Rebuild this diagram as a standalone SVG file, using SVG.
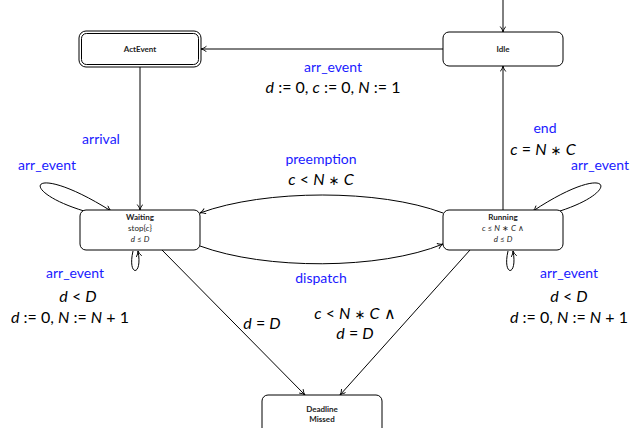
<svg xmlns="http://www.w3.org/2000/svg" width="638" height="428" viewBox="0 0 638 428">
<defs>
<marker id="arr" markerWidth="8" markerHeight="8" refX="6" refY="3" orient="auto" markerUnits="userSpaceOnUse">
<path d="M0.5,0.2 Q3,2.4 6,3 Q3,3.6 0.5,5.8" fill="none" stroke="#000" stroke-width="0.9"/>
</marker>
<style>
.box{fill:#fff;stroke:#000;stroke-width:1}
.nt{font-family:Lato,"Liberation Sans",sans-serif;font-size:8px;text-anchor:middle;fill:#222}
.b{font-weight:bold}
.lbl{font-family:Lato,"Liberation Sans",sans-serif;font-size:14px;fill:#1a1aff;text-anchor:middle}
.m{font-family:Lato,"Liberation Sans",sans-serif;font-size:16px;fill:#000;text-anchor:middle}
.i{font-style:italic}
.s{font-family:"DejaVu Sans",sans-serif;font-size:13px}
.e{fill:none;stroke:#000;stroke-width:1;marker-end:url(#arr)}
</style>
</defs>
<rect width="638" height="428" fill="#fff"/>
<g id="connectors">
<path class="e" d="M503,0 L503,32"/>
<path class="e" d="M443,49 L201,49"/>
<path class="e" d="M140,66 L140,210"/>
<path class="e" d="M503,210 L503,66"/>
<path class="e" d="M443,213 C380,189 265,189 200,213"/>
<path class="e" d="M200,246 C265,270 380,270 443,244"/>
<path class="e" d="M84,211 C15,190 30,160 111,211"/>
<path class="e" d="M560,211 C625,190 610,160 533,211"/>
<path class="e" d="M133,251 C127,277 143,277 138,251"/>
<path class="e" d="M508,251 C502,277 518,277 513,251"/>
<path class="e" d="M162,250 L305,395"/>
<path class="e" d="M470,250 L340,395"/>
</g>
<g id="labels">
<text class="lbl" x="333" y="72">arr_event</text>
<text class="m" x="333" y="93"><tspan class="i">d</tspan> := 0, <tspan class="i">c</tspan> := 0, <tspan class="i">N</tspan> := 1</text>
<text class="lbl" x="101" y="144">arrival</text>
<text class="lbl" x="545" y="133">end</text>
<text class="m" x="543" y="155"><tspan class="i">c</tspan> = <tspan class="i">N</tspan> <tspan class="s">∗</tspan> <tspan class="i">C</tspan></text>
<text class="lbl" x="47" y="170">arr_event</text>
<text class="lbl" x="600" y="170">arr_event</text>
<text class="lbl" x="321" y="164">preemption</text>
<text class="m" x="321" y="185"><tspan class="i">c</tspan> &lt; <tspan class="i">N</tspan> <tspan class="s">∗</tspan> <tspan class="i">C</tspan></text>
<text class="lbl" x="321" y="283">dispatch</text>
<text class="lbl" x="75" y="278">arr_event</text>
<text class="m" x="78" y="302"><tspan class="i">d</tspan> &lt; <tspan class="i">D</tspan></text>
<text class="m" x="70" y="323"><tspan class="i">d</tspan> := 0, <tspan class="i">N</tspan> := <tspan class="i">N</tspan> + 1</text>
<text class="lbl" x="569" y="278">arr_event</text>
<text class="m" x="569" y="302"><tspan class="i">d</tspan> &lt; <tspan class="i">D</tspan></text>
<text class="m" x="569" y="323"><tspan class="i">d</tspan> := 0, <tspan class="i">N</tspan> := <tspan class="i">N</tspan> + 1</text>
<text class="m" x="262" y="329"><tspan class="i">d</tspan> = <tspan class="i">D</tspan></text>
<text class="m" x="355" y="319"><tspan class="i">c</tspan> &lt; <tspan class="i">N</tspan> <tspan class="s">∗</tspan> <tspan class="i">C</tspan> ∧</text>
<text class="m" x="355" y="339"><tspan class="i">d</tspan> = <tspan class="i">D</tspan></text>
</g>
<g id="ActEvent">
<rect class="box" x="79" y="31" width="122" height="36" rx="7"/>
<rect class="box" x="81.5" y="33.5" width="117" height="31" rx="5"/>
<text class="nt b" x="140" y="52">ActEvent</text>
</g>
<g id="Idle">
<rect class="box" x="443" y="32" width="120" height="34" rx="6"/>
<text class="nt b" x="503" y="52">Idle</text>
</g>
<g id="Waiting">
<rect class="box" x="80" y="210" width="120" height="40" rx="6"/>
<text class="nt b" x="140" y="220">Waiting</text>
<text class="nt" x="140" y="231">stop{<tspan class="i">c</tspan>}</text>
<text class="nt" x="140" y="242"><tspan class="i">d</tspan> ≤ <tspan class="i">D</tspan></text>
</g>
<g id="Running">
<rect class="box" x="443" y="210" width="120" height="40" rx="6"/>
<text class="nt b" x="503" y="220">Running</text>
<text class="nt" x="503" y="231"><tspan class="i">c</tspan> ≤ <tspan class="i">N</tspan> ∗ <tspan class="i">C</tspan> ∧</text>
<text class="nt" x="503" y="242"><tspan class="i">d</tspan> ≤ <tspan class="i">D</tspan></text>
</g>
<g id="DeadlineMissed">
<rect class="box" x="262" y="395" width="120" height="40" rx="6"/>
<text class="nt b" x="322" y="412">Deadline</text>
<text class="nt b" x="322" y="422">Missed</text>
</g>
</svg>
